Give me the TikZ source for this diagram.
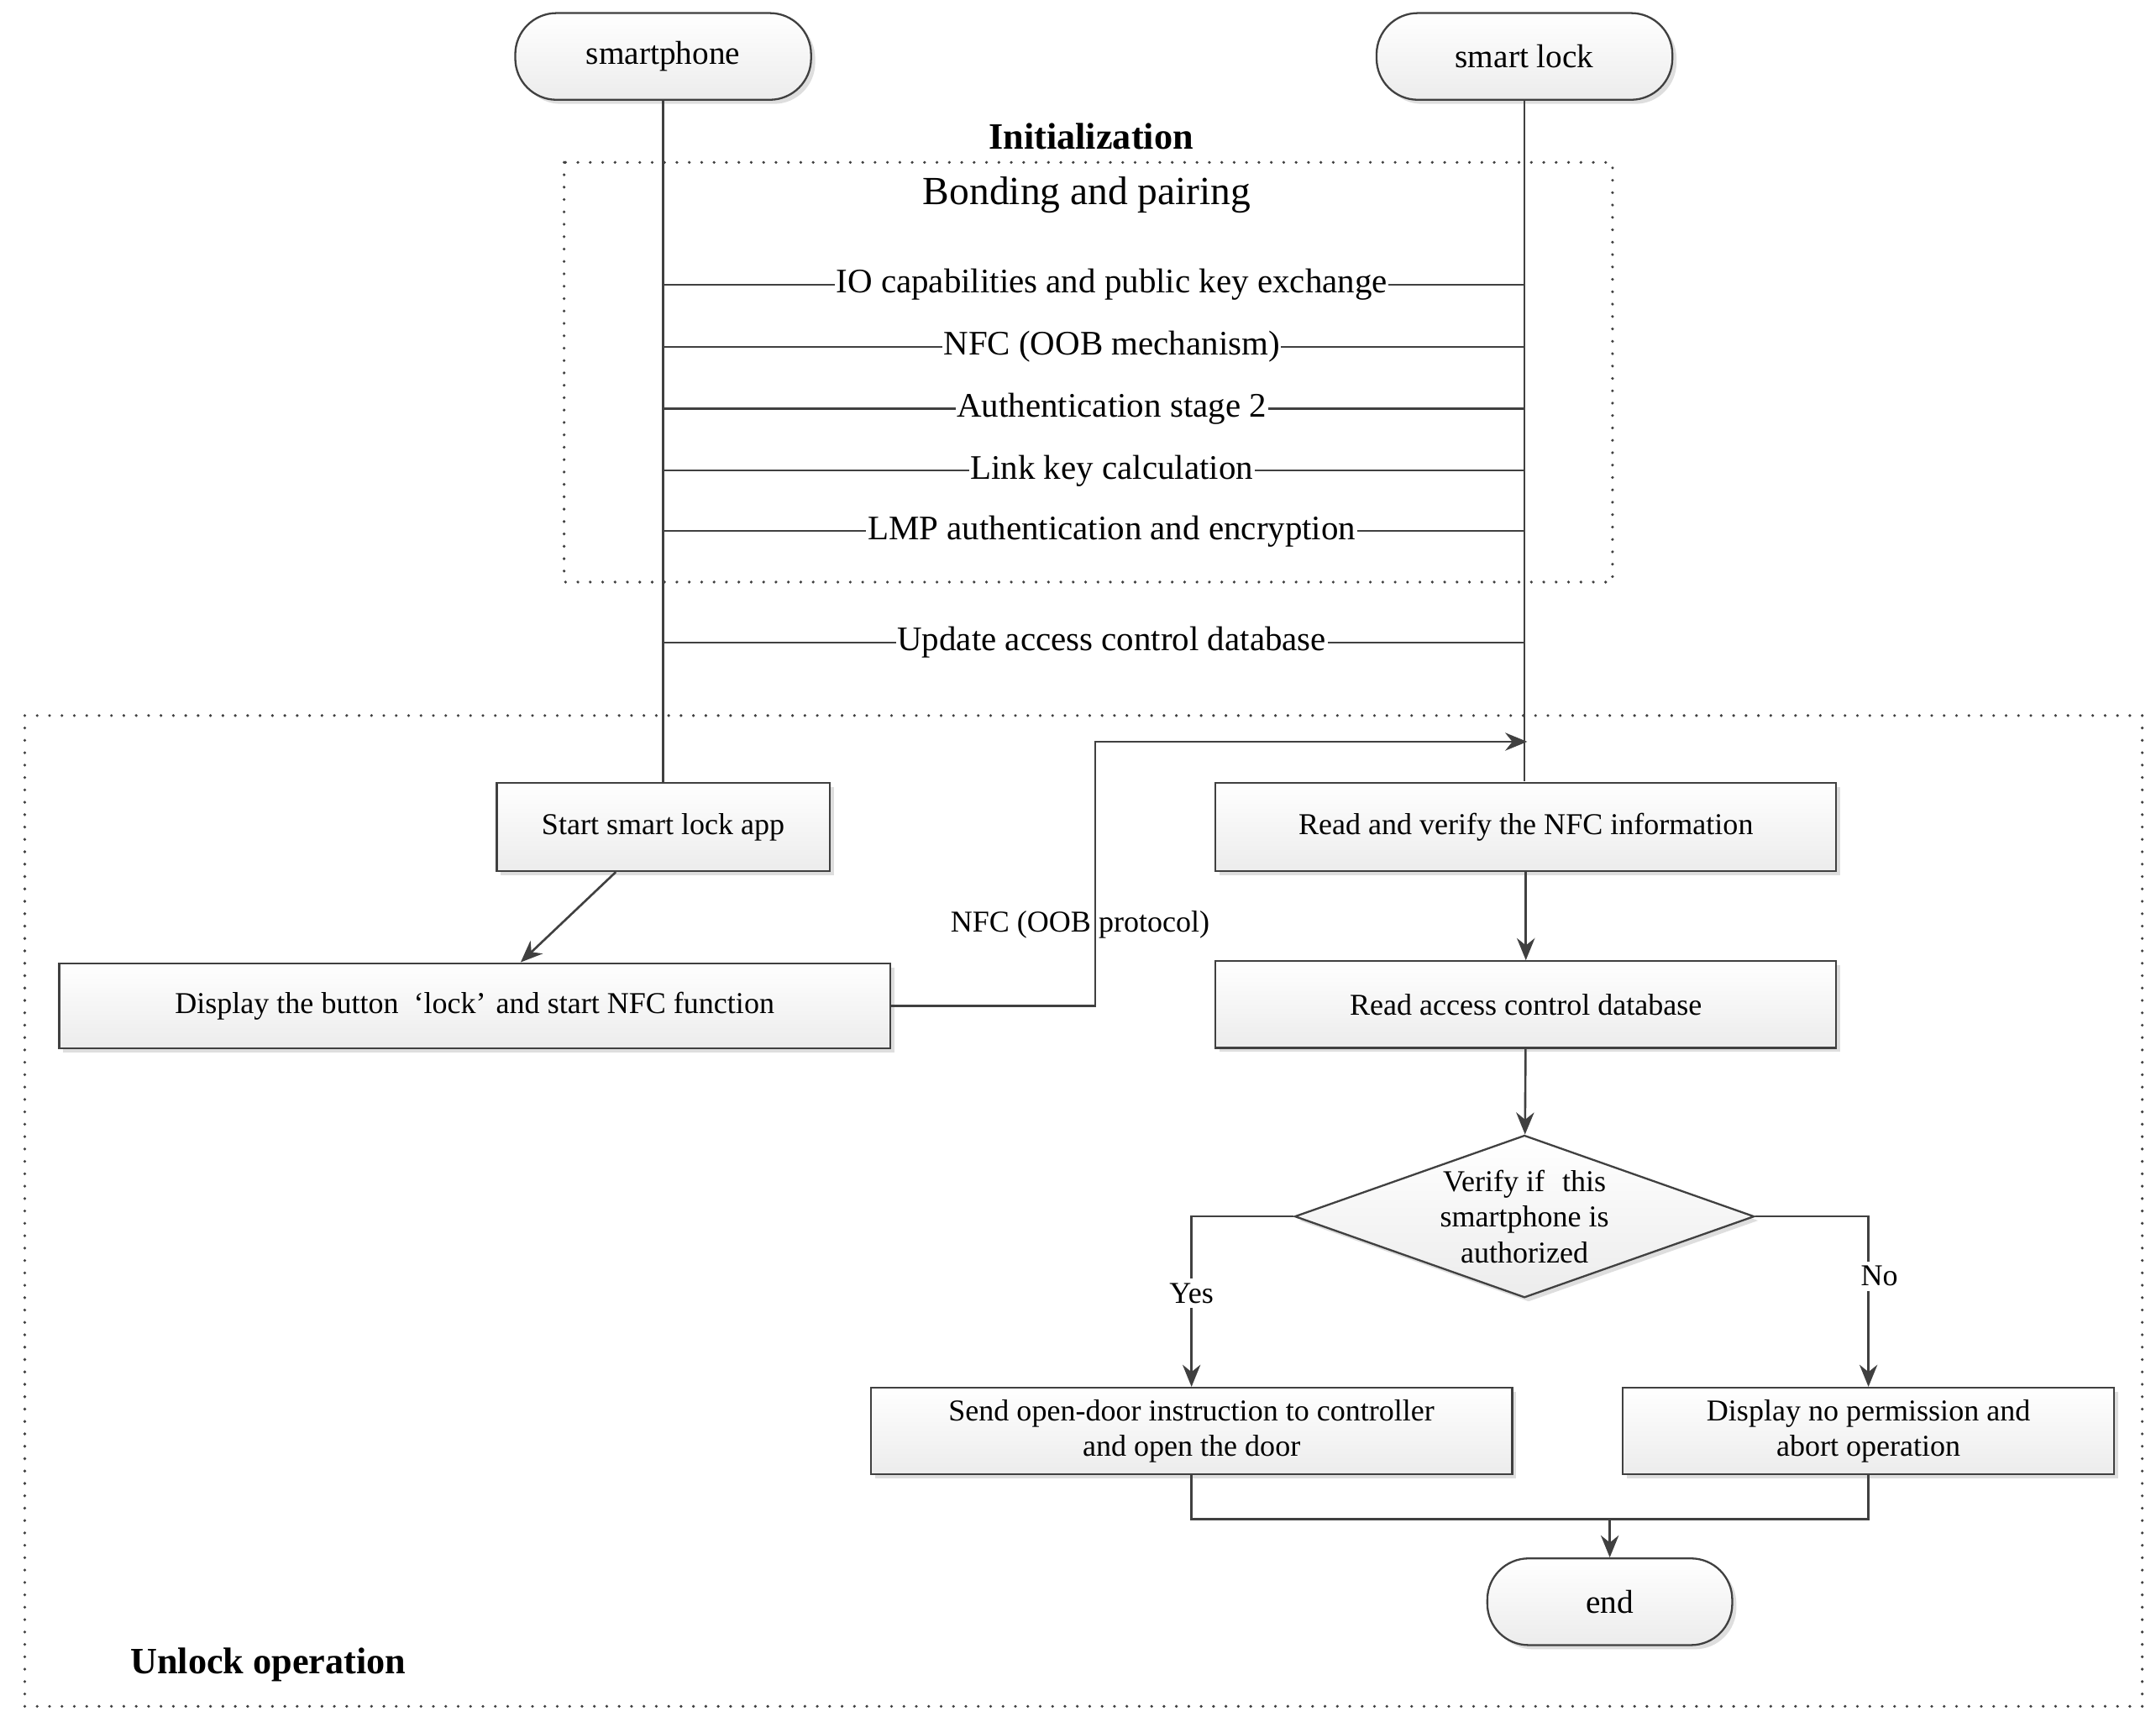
\documentclass[tikz,border=0pt]{standalone}
\usepackage{fontspec}
\setmainfont{Liberation Serif}
\usetikzlibrary{shapes.geometric,shadows,arrows.meta}
\definecolor{ln}{HTML}{404040}
\begin{document}
\begin{tikzpicture}[x=1pt,y=-1pt,
  every node/.style={font=\fontsize{22}{26}\selectfont},
  box/.style={draw=ln,line width=1.4pt,top color=white,bottom color=gray!15,drop shadow={shadow xshift=3pt,shadow yshift=-3pt,fill=gray!50},inner sep=0pt,align=center},
  term/.style={box,rounded corners=30pt,minimum width=215pt,minimum height=63pt,font=\fontsize{24}{28}\selectfont},
  dia/.style={draw=ln,line width=1.4pt,top color=white,bottom color=gray!15,drop shadow={shadow xshift=3pt,shadow yshift=-3pt,fill=gray!50},diamond,aspect=2.83,minimum width=334pt,minimum height=118pt,inner sep=0pt,align=center},
  ll/.style={draw=ln,line width=1.6pt},
  arr/.style={ll,-{Stealth[length=16pt,width=13pt]}},
  msg/.style={fill=white,inner sep=1pt,font=\fontsize{25}{30}\selectfont},
  dot/.style={draw=ln,line width=2.2pt,dash pattern=on 0pt off 9pt,line cap=round}]
\useasboundingbox (0,0) rectangle (1567,1251);
\fill[white] (0,0) rectangle (1567,1251);
\draw[dot] (410,118) rectangle (1172,423);
\draw[dot] (18,520) rectangle (1557,1240);
\node[font=\bfseries\fontsize{27}{30}\selectfont] (init) at (793,99) {Initialization};
\node[font=\fontsize{29}{33}\selectfont] (bp) at (790,142) {Bonding and pairing};
\node[font=\bfseries\fontsize{27}{30}\selectfont] (unl) at (195,1210) {Unlock operation};
\node[term] (sp) at (482,41) {smartphone};
\node[term] (sl) at (1108,41) {smart lock};
\node[box,minimum width=242pt,minimum height=64pt] (start) at (482,601) {Start smart lock app};
\node[box,minimum width=604pt,minimum height=62pt] (disp) at (345,731) {Display the button\,\,\,‘lock’\,\,and start NFC function};
\node[box,minimum width=451pt,minimum height=64pt] (rv) at (1109,601) {Read and verify the NFC information};
\node[box,minimum width=451pt,minimum height=63pt] (rdb) at (1109,730) {Read access control database};
\node[dia] (d) at (1108,884) {Verify if\,\, this\\smartphone is\\authorized};
\node[box,minimum width=466pt,minimum height=63pt] (send) at (866,1040) {Send open-door instruction to controller\\and open the door};
\node[box,minimum width=357pt,minimum height=63pt] (nop) at (1358,1040) {Display no permission and\\abort operation};
\node[term,minimum width=178pt] (end) at (1170,1164) {end};
\coordinate (spb) at (482,568); \coordinate (slb) at (1108,568);
\draw[ll] (sp.south) -- (start.north);
\draw[ll] (sl.south) -- (slb);
\foreach \y/\t in {207/IO capabilities and public key exchange,252/NFC (OOB mechanism),297/Authentication stage 2,342/Link key calculation,386/LMP authentication and encryption,467/Update access control database}{
  \coordinate (a) at (482,\y); \coordinate (b) at (1108,\y);
  \draw[ll,line width=1.3pt] (a) -- node[msg,xshift=13pt] {\t} (b);
}
\draw[arr] (start) -- (disp);
\coordinate (n1) at (796,731); \coordinate (n2) at (796,539); \coordinate (n3) at (1110,539);
\draw[arr] (disp.east) -- (n1) -- (n2) -- (n3);
\node (nfc) at (785,672) {NFC (OOB protocol)};
\draw[arr] (rv) -- (rdb);
\draw[arr] (rdb) -- (d);
\coordinate (y1) at (866,884); \coordinate (no1) at (1358,884);
\draw[arr] (d.west) -- (y1) -- node[fill=white,pos=0.45] {Yes} (send.north);
\draw[arr] (d.east) -- (no1) -- node[fill=white,pos=0.35,xshift=8pt] {No} (nop.north);
\coordinate (m1) at (866,1104); \coordinate (m2) at (1358,1104); \coordinate (m3) at (1170,1104);
\draw[ll] (send.south) -- (m1) -- (m2) -- (nop.south);
\draw[arr] (m3) -- (end.north);
\end{tikzpicture}
\end{document}
